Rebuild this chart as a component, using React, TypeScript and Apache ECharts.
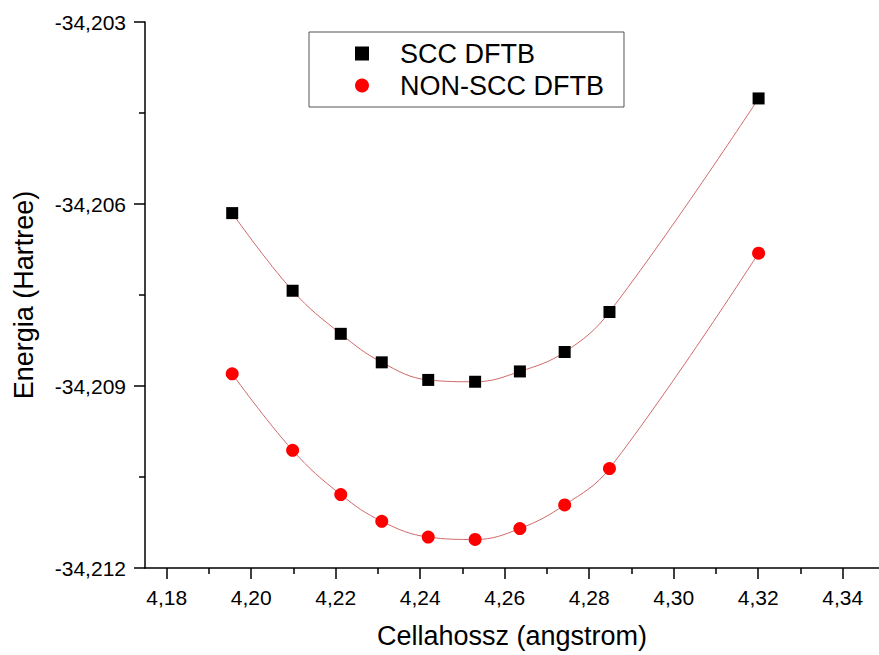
import React, { useEffect, useRef } from "react";
import * as echarts from "echarts";

const xValues = [4.1955, 4.2098, 4.2212, 4.2309, 4.2419, 4.253, 4.2636, 4.2742, 4.2848, 4.3201];
const sccEnergy = [-34.20615, -34.20743, -34.20814, -34.20861, -34.2089, -34.20893, -34.20876, -34.20844, -34.20778, -34.20426];
const nonSccEnergy = [-34.2088, -34.21006, -34.21079, -34.21123, -34.21149, -34.21153, -34.21135, -34.21096, -34.21036, -34.20681];
const xMajorTicks = [4.18, 4.2, 4.22, 4.24, 4.26, 4.28, 4.3, 4.32, 4.34];
const xMinorTicks = [4.19, 4.21, 4.23, 4.25, 4.27, 4.29, 4.31, 4.33];
const seriesNames = ["SCC DFTB", "NON-SCC DFTB"];

const FONT = "'Liberation Sans', Arial, sans-serif";

export default function App() {
  const ref = useRef<HTMLDivElement>(null);
  useEffect(() => {
    if (!ref.current) return;
    const chart = echarts.init(ref.current, undefined, { renderer: "svg" });
    const scc = xValues.map((x, i) => [x, sccEnergy[i]]);
    const non = xValues.map((x, i) => [x, nonSccEnergy[i]]);
    const xMin = 4.17486;
    const xMax = 4.3486;
    chart.setOption({
      animation: false,
      backgroundColor: "#ffffff",
      textStyle: { fontFamily: FONT },
      grid: { left: 145, right: 0, top: 22, bottom: 87, containLabel: false },
      legend: {
        data: seriesNames,
        orient: "vertical",
        left: 309,
        top: 32,
        itemWidth: 14,
        itemHeight: 14,
        itemGap: 5,
        padding: [8, 20, 8, 46],
        borderColor: "#555555",
        borderWidth: 1,
        selectedMode: false,
        itemStyle: { opacity: 1 },
        textStyle: { fontSize: 27, color: "#000", fontFamily: FONT, lineHeight: 27, padding: [0, 0, 0, 26] },
      },
      xAxis: [
        {
          type: "value",
          min: xMin,
          max: xMax,
          name: "Cellahossz (angstrom)",
          nameLocation: "middle",
          nameGap: 54,
          nameTextStyle: { fontSize: 27, color: "#000", fontFamily: FONT },
          axisLine: { show: true, lineStyle: { color: "#000", width: 1.5 } },
          axisTick: { show: true, inside: false, length: 11, customValues: xMajorTicks, lineStyle: { color: "#000", width: 1.5 } },
          axisLabel: {
            customValues: xMajorTicks,
            fontSize: 21,
            color: "#000",
            margin: 19,
            fontFamily: FONT,
            formatter: (v: number) => v.toFixed(2).replace(".", ","),
          },
          splitLine: { show: false },
        },
        {
          type: "value",
          min: xMin,
          max: xMax,
          position: "bottom",
          axisLine: { show: false },
          axisTick: { show: true, inside: false, length: 6, customValues: xMinorTicks, lineStyle: { color: "#000", width: 1.5 } },
          axisLabel: { show: false },
          splitLine: { show: false },
        },
      ],
      yAxis: {
        type: "value",
        min: -34.212,
        max: -34.203,
        interval: 0.003,
        name: "Energia (Hartree)",
        nameLocation: "middle",
        nameGap: 108,
        nameTextStyle: { fontSize: 27, color: "#000", fontFamily: FONT },
        axisLine: { show: true, lineStyle: { color: "#000", width: 1.5 } },
        axisTick: { show: true, inside: false, length: 11, lineStyle: { color: "#000", width: 1.5 } },
        minorTick: { show: true, splitNumber: 2, length: 6, lineStyle: { color: "#000", width: 1.5 } },
        axisLabel: {
          fontSize: 21,
          color: "#000",
          margin: 19,
          fontFamily: FONT,
          formatter: (v: number) => v.toFixed(3).replace(".", ","),
        },
        splitLine: { show: false },
        minorSplitLine: { show: false },
      },
      series: [
        {
          name: "SCC fit",
          type: "line",
          data: scc,
          smooth: 0.4,
          showSymbol: false,
          symbol: "none",
          lineStyle: { color: "#d06a6a", width: 1 },
          z: 1,
          silent: true,
        },
        {
          name: "NON-SCC fit",
          type: "line",
          data: non,
          smooth: 0.4,
          showSymbol: false,
          symbol: "none",
          lineStyle: { color: "#d06a6a", width: 1 },
          z: 1,
          silent: true,
        },
        {
          name: seriesNames[0],
          type: "scatter",
          data: scc,
          symbol: "rect",
          symbolSize: 12,
          itemStyle: { color: "#000000", opacity: 1 },
          z: 3,
        },
        {
          name: seriesNames[1],
          type: "scatter",
          data: non,
          symbol: "circle",
          symbolSize: 13,
          itemStyle: { color: "#ff0000", opacity: 1 },
          z: 3,
        },
      ],
    });
    return () => chart.dispose();
  }, []);
  return (
    <div
      ref={ref}
      style={{ position: "absolute", left: 0, top: 0, width: 879, height: 655, background: "#fff" }}
    />
  );
}
